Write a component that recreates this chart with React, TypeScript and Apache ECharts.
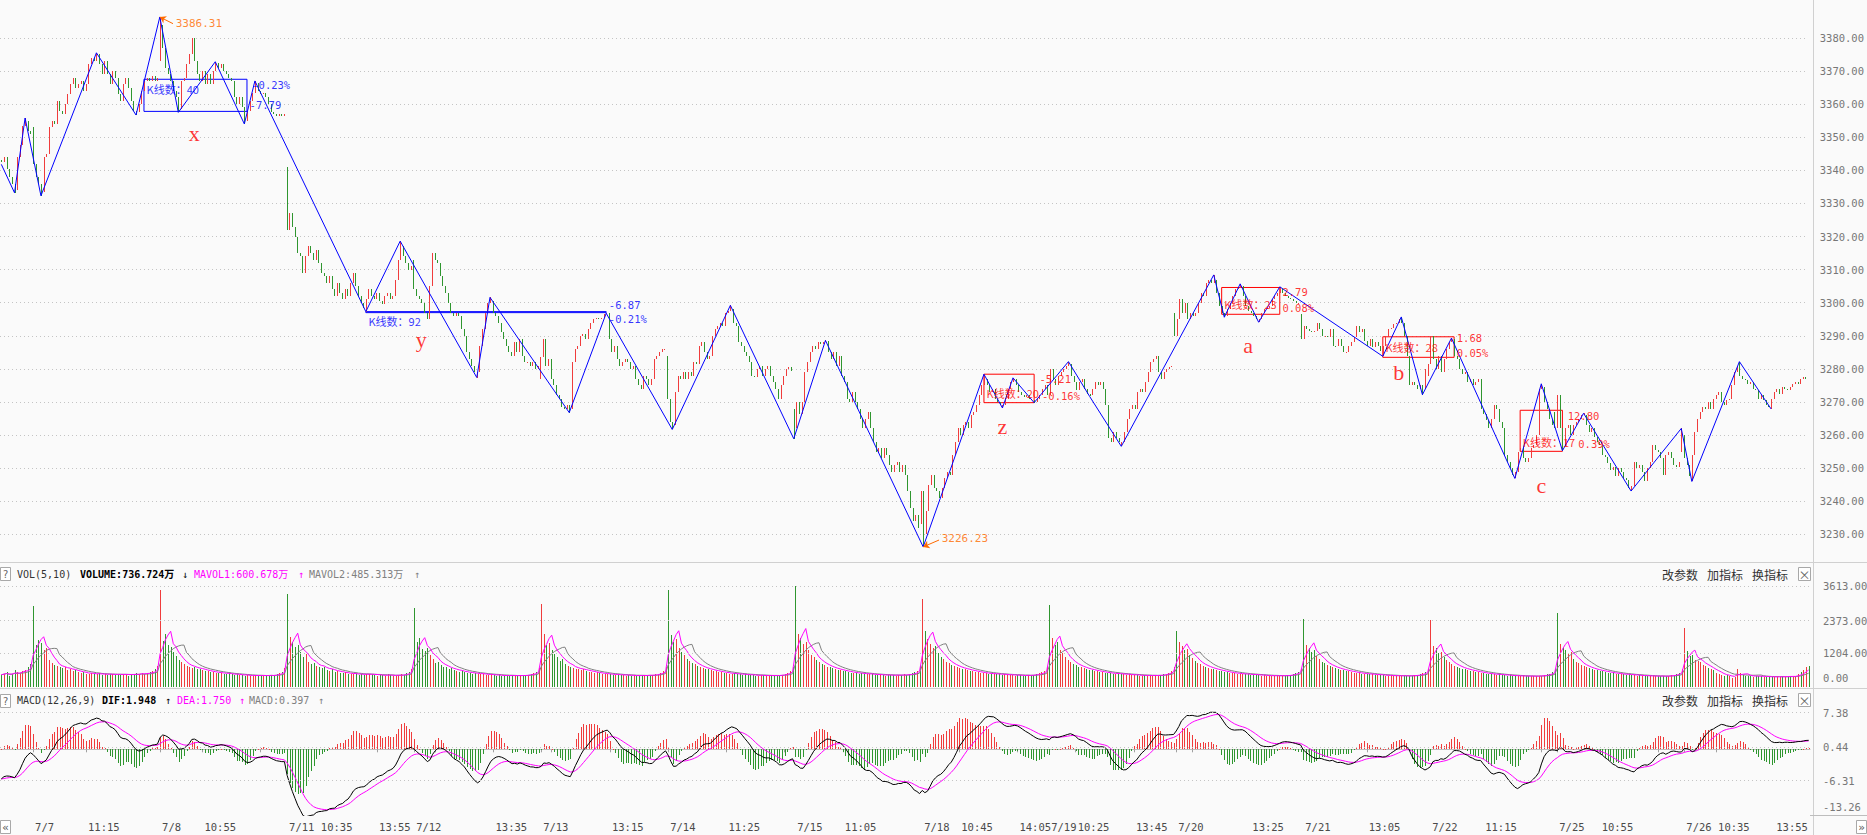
import React, { useEffect, useRef } from 'react';
import * as echarts from 'echarts';

// ---------------- categories / tick labels ----------------
const tradingDays = ['7/6', '7/7', '7/8', '7/11', '7/12', '7/13', '7/14', '7/15', '7/18', '7/19', '7/20', '7/21', '7/22', '7/25', '7/26'];
const barTimes = ['9:35', '9:40', '9:45', '9:50', '9:55', '10:00', '10:05', '10:10', '10:15', '10:20', '10:25', '10:30', '10:35', '10:40', '10:45', '10:50', '10:55', '11:00', '11:05', '11:10', '11:15', '11:20', '11:25', '11:30', '13:05', '13:10', '13:15', '13:20', '13:25', '13:30', '13:35', '13:40', '13:45', '13:50', '13:55', '14:00', '14:05', '14:10', '14:15', '14:20', '14:25', '14:30', '14:35', '14:40', '14:45', '14:50', '14:55', '15:00'];
const labelBars = [12, 32, 60, 76, 108, 120, 142, 156, 186, 204, 230, 252, 274, 300, 318, 348, 362, 384, 396, 406, 428, 444, 472, 492, 516, 540, 560, 588, 604, 636, 648, 670];
const tickBars = [12, 60, 108, 156, 204, 252, 300, 348, 396, 444, 492, 540, 588, 636, 32, 54, 76, 98, 120, 142, 164, 186, 208, 230, 274, 296, 318, 340, 362, 384, 406, 428, 450, 472, 494, 516, 538, 560, 582, 604, 626, 648, 670];

// ---------------- prices (5-minute closes) ----------------
const dayOpens = [3343, 3353, 3373, 3341, 3313, 3277, 3284, 3268, 3233, 3275, 3297, 3296.5, 3278, 3267, 3255];
const close0706 = [3342.5, 3344, 3340.5, 3338, 3336, 3334, 3344, 3347.5, 3353.5, 3355, 3352, 3351];
const close0707 = [3342, 3338, 3336, 3333.5, 3344, 3345, 3353, 3355, 3354, 3361, 3358, 3357, 3360, 3363, 3366, 3368, 3365, 3366, 3367, 3364, 3366, 3372, 3374, 3373, 3375, 3372, 3369, 3373, 3369, 3366, 3370, 3368, 3363, 3361, 3366, 3368, 3365, 3361, 3358, 3357.5, 3360, 3364, 3367, 3368, 3367, 3368.5, 3367, 3368];
const close0708 = [3384, 3377, 3371, 3369, 3367, 3364, 3362, 3358.5, 3367, 3368, 3372, 3375, 3380, 3373, 3369, 3367, 3370, 3366, 3369, 3366, 3370, 3372.5, 3371, 3372, 3370, 3369, 3368, 3367, 3362, 3360, 3362, 3359, 3355, 3358, 3361, 3363.5, 3366.5, 3364, 3363, 3363.5, 3362, 3360, 3357.5, 3357, 3356.5, 3357, 3356.5, 3357];
const close0711 = [3322, 3327, 3323, 3320, 3315, 3314, 3309, 3314, 3317, 3315, 3313, 3316, 3312, 3309, 3308, 3306, 3308, 3304, 3302, 3306, 3303, 3301, 3304, 3302, 3306, 3309, 3305, 3302, 3300, 3298.5, 3301, 3304, 3302, 3301, 3303, 3300.5, 3299.5, 3302, 3303, 3301, 3302, 3307, 3313, 3317, 3314, 3312, 3310, 3311];
const close0712 = [3304, 3302, 3301, 3300, 3297, 3295, 3305, 3315, 3313, 3312, 3308, 3305, 3303, 3300, 3297, 3296, 3297, 3296, 3292, 3290, 3285, 3283, 3281, 3279, 3279, 3287, 3292, 3297, 3300, 3300.5, 3297, 3296, 3294, 3291, 3289, 3287, 3285, 3284, 3288, 3285, 3289, 3284, 3282, 3282, 3281, 3282, 3280, 3281];
const close0713 = [3283.5, 3289, 3281, 3283, 3277, 3275, 3272, 3271, 3268.5, 3268, 3269, 3268, 3282, 3286, 3287, 3290, 3290.5, 3289, 3292, 3294, 3295, 3295.5, 3295, 3295.5, 3296.5, 3296.8, 3289, 3285, 3287, 3283, 3281, 3282, 3283, 3282, 3280, 3281, 3277, 3275, 3274, 3278, 3277, 3275, 3277, 3283, 3284, 3285, 3286, 3286];
const close0714 = [3271, 3264, 3263, 3273, 3278, 3277, 3279, 3277, 3279, 3278, 3282, 3281.5, 3287, 3288, 3285, 3283, 3284, 3290, 3292, 3293, 3294, 3293, 3297, 3297.5, 3298, 3294, 3293, 3288, 3287, 3285, 3284, 3282, 3278, 3277.5, 3280, 3281, 3278, 3280, 3281, 3278, 3276, 3274, 3271, 3275, 3278, 3280, 3280.5, 3279.5];
const close0715 = [3262, 3270, 3266.5, 3270, 3279, 3282, 3285, 3287, 3286, 3288, 3287.5, 3288, 3288.5, 3285, 3283, 3285, 3281, 3284, 3278, 3276, 3271, 3270, 3273, 3270, 3268, 3265, 3262, 3265, 3267, 3262, 3258, 3255, 3256, 3253, 3256, 3254, 3251, 3249, 3251, 3252, 3249, 3251, 3248, 3243, 3238, 3234, 3236, 3232];
const close0718 = [3243, 3230, 3237, 3245, 3248, 3244, 3243, 3241, 3244, 3247, 3249, 3248, 3254, 3258, 3262, 3260, 3263, 3264, 3262, 3266, 3267, 3269, 3272, 3275, 3277, 3275, 3273, 3274, 3271, 3270, 3269, 3269, 3271, 3274, 3276, 3277, 3275, 3273, 3272, 3271.5, 3272, 3271, 3270.5, 3270, 3271, 3272, 3274, 3275];
const close0719 = [3272, 3280, 3277, 3275, 3278, 3279, 3280, 3281, 3281.5, 3278, 3276, 3273.5, 3276, 3277, 3274, 3272.5, 3272, 3274, 3276, 3275, 3276, 3274, 3269, 3259, 3258, 3261, 3259, 3258, 3258, 3261, 3265, 3268, 3269, 3268, 3273, 3274, 3273, 3276, 3279, 3282, 3283, 3284, 3279, 3277, 3279, 3280, 3280.5, 3281];
const close0720 = [3290, 3295, 3301, 3297, 3300, 3295, 3297, 3296, 3297, 3300, 3303, 3302, 3306, 3307, 3306, 3307, 3303, 3299, 3297, 3296, 3298, 3300, 3302, 3304, 3304.5, 3305, 3302, 3299, 3297.5, 3297, 3296, 3295, 3295, 3297, 3298, 3298.5, 3299, 3301, 3302, 3303, 3304, 3303, 3302, 3301.5, 3301, 3300.5, 3300, 3300];
const close0721 = [3289, 3293, 3292, 3291.5, 3291, 3291.5, 3294, 3292, 3290, 3290, 3289.5, 3292, 3287, 3286.8, 3289, 3287, 3285, 3285, 3287, 3288, 3289.5, 3293, 3291, 3292, 3288.5, 3287, 3289, 3286.5, 3288, 3287, 3285.5, 3287, 3290, 3292, 3292.5, 3293.5, 3293.8, 3295, 3294, 3290, 3284, 3275, 3276, 3275, 3274, 3275, 3274, 3280];
const close0722 = [3281.4, 3290, 3283, 3280, 3284, 3279, 3283, 3286, 3288, 3289, 3284, 3283, 3280, 3278.5, 3279, 3276, 3277, 3275, 3276, 3277, 3268, 3266.5, 3264.5, 3262, 3265, 3269, 3268, 3264, 3262, 3254, 3252, 3250, 3248, 3249, 3255, 3256, 3253, 3252, 3253, 3256, 3257, 3260, 3274, 3274.5, 3270, 3268, 3265, 3263];
const close0725 = [3262, 3272, 3262, 3257, 3262, 3263, 3260, 3263, 3264, 3265, 3266, 3266, 3263, 3261, 3262, 3259.5, 3258, 3257, 3254, 3253.5, 3251.5, 3249.5, 3250.5, 3247.5, 3250, 3249, 3247, 3246.5, 3244, 3244.5, 3252, 3250, 3251, 3249, 3246, 3250, 3252, 3257, 3255.5, 3255, 3253, 3248, 3254, 3255, 3253, 3251, 3250.5, 3252];
const close0726 = [3260, 3253, 3251, 3247.5, 3254, 3261, 3265, 3267, 3268.5, 3268, 3270, 3268, 3271, 3272, 3273, 3270, 3269, 3270.5, 3271, 3275, 3279, 3281, 3278, 3277, 3276.5, 3275.5, 3276, 3274, 3273.5, 3271, 3272, 3270.5, 3269, 3268.5, 3271, 3273, 3274, 3272.5, 3274.5, 3274, 3273.5, 3274.5, 3275.5, 3276, 3275.5, 3277, 3277.5, 3277];

// ---------------- volume (万) ----------------
const vol0706 = [430, 470, 520, 380, 450, 600, 520, 480, 560, 610, 700, 820];
const vol0707 = [2900, 1500, 1680, 1560, 1320, 1380, 970, 850, 790, 730, 720, 670, 690, 610, 640, 560, 600, 520, 490, 520, 470, 460, 500, 450, 440, 480, 430, 470, 420, 460, 450, 410, 470, 430, 440, 460, 400, 450, 430, 480, 460, 500, 450, 470, 520, 560, 620, 760];
const vol0708 = [3470, 1650, 1900, 1500, 1420, 1250, 1100, 960, 880, 820, 760, 700, 680, 720, 640, 620, 600, 560, 580, 530, 520, 500, 480, 510, 470, 460, 480, 440, 420, 450, 430, 410, 400, 430, 380, 400, 410, 390, 420, 400, 380, 410, 430, 400, 450, 480, 540, 660];
const vol0711 = [3330, 1780, 1600, 1420, 1480, 1230, 1050, 1180, 900, 820, 860, 760, 700, 680, 720, 600, 580, 620, 540, 560, 500, 480, 520, 460, 470, 440, 480, 430, 450, 420, 460, 470, 440, 420, 400, 430, 410, 390, 440, 420, 400, 380, 420, 450, 430, 480, 520, 640];
const vol0712 = [2820, 1600, 1750, 1350, 1280, 1400, 1120, 980, 860, 900, 780, 720, 690, 640, 660, 600, 580, 540, 560, 520, 500, 490, 470, 500, 460, 440, 470, 430, 420, 450, 410, 400, 430, 390, 380, 410, 400, 420, 390, 380, 410, 400, 430, 420, 460, 490, 530, 680];
const vol0713 = [2970, 1900, 1500, 1580, 1300, 1180, 1050, 920, 990, 800, 760, 720, 680, 650, 620, 600, 640, 560, 540, 520, 500, 530, 480, 460, 440, 470, 450, 430, 420, 440, 410, 430, 400, 420, 390, 410, 380, 400, 420, 410, 390, 430, 410, 440, 470, 500, 560, 700];
const vol0714 = [3470, 1850, 1620, 1700, 1400, 1250, 1120, 1000, 930, 860, 800, 740, 700, 680, 640, 620, 600, 570, 550, 540, 520, 500, 490, 470, 460, 480, 450, 440, 430, 450, 420, 410, 430, 400, 390, 420, 410, 400, 380, 410, 390, 420, 400, 430, 460, 500, 560, 720];
const vol0715 = [3613, 1900, 1750, 1550, 1620, 1300, 1150, 1050, 950, 900, 830, 780, 720, 700, 660, 640, 610, 590, 560, 550, 530, 510, 500, 480, 470, 490, 460, 450, 440, 460, 430, 420, 440, 410, 400, 430, 420, 410, 400, 430, 410, 440, 420, 450, 480, 520, 580, 760];
const vol0718 = [3150, 2000, 1700, 1550, 1400, 1450, 1200, 1080, 980, 900, 850, 780, 740, 700, 680, 650, 620, 600, 580, 560, 540, 520, 500, 490, 480, 470, 460, 450, 470, 440, 430, 450, 420, 410, 430, 400, 420, 410, 400, 390, 420, 410, 430, 450, 480, 520, 570, 700];
const vol0719 = [2930, 1750, 1500, 1600, 1300, 1200, 1060, 950, 880, 820, 780, 720, 690, 660, 640, 610, 590, 570, 550, 540, 520, 500, 490, 480, 470, 460, 480, 450, 440, 430, 450, 420, 410, 430, 400, 390, 410, 400, 420, 390, 410, 400, 420, 440, 470, 510, 560, 690];
const vol0720 = [2000, 1600, 1450, 1300, 1350, 1150, 1020, 920, 860, 800, 760, 710, 680, 650, 630, 600, 580, 560, 540, 520, 500, 490, 480, 470, 460, 450, 440, 460, 430, 420, 440, 410, 400, 420, 390, 380, 400, 390, 410, 380, 400, 390, 410, 430, 460, 490, 540, 660];
const vol0721 = [2420, 1500, 1400, 1250, 1300, 1100, 980, 900, 840, 780, 740, 700, 660, 640, 610, 590, 570, 550, 530, 510, 500, 480, 470, 460, 450, 440, 460, 430, 420, 410, 430, 400, 390, 410, 380, 400, 390, 380, 400, 390, 380, 400, 410, 430, 450, 480, 530, 650];
const vol0722 = [2380, 1450, 1380, 1200, 1250, 1050, 950, 880, 820, 760, 720, 680, 650, 620, 600, 580, 560, 540, 520, 500, 490, 470, 460, 450, 440, 430, 450, 420, 410, 400, 420, 390, 380, 400, 370, 390, 380, 370, 390, 380, 370, 390, 400, 420, 440, 470, 520, 640];
const vol0725 = [2635, 1550, 1420, 1300, 1200, 1250, 1000, 900, 840, 780, 740, 700, 660, 630, 610, 590, 570, 550, 530, 510, 500, 480, 470, 460, 450, 440, 430, 450, 420, 410, 400, 420, 390, 380, 400, 370, 390, 380, 370, 390, 380, 370, 390, 410, 430, 460, 500, 620];
const vol0726 = [2100, 1265, 1085, 1145, 966, 907, 900, 787, 728, 668, 640, 608, 490, 470, 430, 370, 420, 380, 330, 360, 620, 480, 430, 400, 380, 370, 360, 400, 380, 370, 360, 350, 370, 340, 360, 350, 360, 370, 360, 370, 380, 369.7, 370, 450, 520, 600, 696.7, 736.724];

// ---------------- zigzag pivots, wave boxes, annotations ----------------
const zigzagStart = [0, 3341.8];
const zigzagPivots = [[5, 3333.2], [9, 3355.8], [15, 3332.3], [36, 3375.5], [51, 3356.7], [60, 3386.31], [67, 3357.5], [81, 3372.8], [92, 3354.0], [96, 3367.0], [138, 3297.3], [151, 3318.6], [180, 3277.4], [185, 3301.6], [215, 3266.8], [229, 3296.8], [254, 3261.7], [276, 3299.2], [300, 3258.9], [312, 3288.6], [349, 3226.23], [372, 3278.4], [379, 3268.2], [383, 3277.3], [391, 3269.8], [404, 3282.2], [412, 3271.7], [424, 3256.6], [459, 3308.4], [463, 3295.6], [469, 3305.7], [476, 3294.1], [484, 3304.8], [523, 3283.8], [530, 3295.7], [538, 3272.2], [549, 3289.3], [573, 3246.9], [583, 3275.5], [591, 3255.3], [599, 3266.6], [617, 3243.1], [636, 3262.0], [640, 3246.0], [658, 3282.2], [670, 3267.9]];
// [fromBar, toBar, top, bottom]
const blueBoxes = [[54, 93, 3367.5, 3357.8], [138, 229, 3297.3, 3297.0]];
const redBoxes = [[372, 391, 3278.4, 3269.8], [462, 484, 3304.6, 3296.5], [523, 550, 3289.7, 3283.5], [575, 591, 3267.5, 3255.1]];
const blueBoxTexts = [[55, 3364.7, 'K线数：40'], [95, 3365.8, '-0.23%'], [94, 3359.8, '-7.79'], [139, 3294.4, 'K线数：92'], [230, 3299.2, '-6.87'], [230, 3295.2, '-0.21%']];
const redBoxTexts = [[373, 3272.7, 'K线数：20'], [393, 3277.0, '-5.21'], [394, 3271.7, '-0.16%'], [463, 3299.7, 'K线数：23'], [485, 3303.3, '2.79'], [485, 3298.4, '0.08%'], [524, 3286.5, 'K线数：28'], [551, 3289.4, '1.68'], [551, 3284.9, '0.05%'], [576, 3258.0, 'K线数：17'], [593, 3265.9, '12.80'], [597, 3257.3, '0.39%']];
const waveLabels = [[73, 3351, 'x'], [159, 3289, 'y'], [379, 3262.7, 'z'], [472, 3287.2, 'a'], [529, 3278.8, 'b'], [583, 3244.7, 'c']];
const extremeMarks = [[60, 3386.31, 65, 3384.3, 66, 3384.2], [349, 3226.23, 355, 3228.3, 356, 3228.7]];

const volumeTicks = [0, 1204, 2373, 3613];
const macdTicks = [-13.26, -6.31, 0.44, 7.38];
const macdWarmup = { ema12Offset: 1.7, ema26Offset: 8.0, dea: -6.0 };

// ---------------- styles ----------------
const UP = '#f03c3c';
const DOWN = '#2f962f';
const BLUE = '#0000ff';
const RED = '#ff0000';
const ORANGE = '#ff6a00';
const MAGENTA = '#ff00ff';
const GRAY = '#808080';
const MONO = '"DejaVu Sans Mono", "Noto Sans CJK SC", monospace';
const CJK = '"Noto Sans CJK SC", sans-serif';
const GRID_LINE = '#c4c4c4';
const BORDER = '#d0d0d0';

function buildOption() {
  const dayCloses = [close0706, close0707, close0708, close0711, close0712, close0713, close0714, close0715, close0718, close0719, close0720, close0721, close0722, close0725, close0726];
  const dayVols = [vol0706, vol0707, vol0708, vol0711, vol0712, vol0713, vol0714, vol0715, vol0718, vol0719, vol0720, vol0721, vol0722, vol0725, vol0726];
  const closes = dayCloses.flat();
  const vols = dayVols.flat();
  const n = closes.length;

  const categories: string[] = [];
  const dayStart: Record<number, number> = {};
  tradingDays.forEach((d, di) => {
    const len = dayCloses[di].length;
    const times = barTimes.slice(48 - len);
    dayStart[categories.length] = di;
    times.forEach((t, k) => categories.push(di > 0 && k === 0 ? d : t));
  });

  const pivotHigh: Record<number, number> = {};
  const pivotLow: Record<number, number> = {};
  let prevP = zigzagStart[1];
  zigzagPivots.forEach(([b, p]) => {
    if (p > prevP) pivotHigh[b] = p; else pivotLow[b] = p;
    prevP = p;
  });

  const candles: any[] = [];
  const dirs: number[] = [];
  for (let i = 0; i < n; i++) {
    const o = dayStart[i] !== undefined ? dayOpens[dayStart[i]] : closes[i - 1];
    const c = closes[i];
    let hi = Math.max(o, c), lo = Math.min(o, c);
    if (pivotHigh[i] !== undefined) hi = Math.max(hi, pivotHigh[i]);
    if (pivotLow[i] !== undefined) lo = Math.min(lo, pivotLow[i]);
    const dir = c > o ? 1 : c < o ? -1 : (i > 0 && c < closes[i - 1] ? -1 : 1);
    dirs.push(dir);
    candles.push([i, o, c, lo, hi, dir]);
  }

  const ma = (arr: number[], k: number) => arr.map((_, i) => {
    const s = Math.max(0, i - k + 1);
    let sum = 0;
    for (let j = s; j <= i; j++) sum += arr[j];
    return +(sum / (i - s + 1)).toFixed(3);
  });
  const ma5 = ma(vols, 5);
  const ma10 = ma(vols, 10);

  let e12 = closes[0] + macdWarmup.ema12Offset;
  let e26 = closes[0] + macdWarmup.ema26Offset;
  let dea = macdWarmup.dea;
  const difArr: number[] = [], deaArr: number[] = [], histArr: any[] = [];
  closes.forEach((c, i) => {
    e12 = e12 + (c - e12) * 2 / 13;
    e26 = e26 + (c - e26) * 2 / 27;
    const d = e12 - e26;
    dea = dea + (d - dea) * 2 / 10;
    difArr.push(+d.toFixed(3));
    deaArr.push(+dea.toFixed(3));
    histArr.push([i, +(2 * (d - dea)).toFixed(3)]);
  });

  const labelSet = new Set(labelBars);
  const tickSet = new Set(tickBars);

  const lineRender = (getLoHi: (api: any) => [number, number], getColor: (api: any) => string) =>
    (params: any, api: any) => {
      const i = api.value(0);
      const [lo, hi] = getLoHi(api);
      const pTop = api.coord([i, hi]);
      const pBot = api.coord([i, lo]);
      const x = Math.round(pTop[0]) + 0.5;
      let y1 = Math.round(pTop[1]);
      let y2 = Math.round(pBot[1]);
      if (y2 - y1 < 1) y2 = y1 + 1;
      return { type: 'line', shape: { x1: x, y1, x2: x, y2 }, style: { stroke: getColor(api), lineWidth: 1 } };
    };

  const xAxisBase = (g: number) => ({
    type: 'category',
    gridIndex: g,
    data: categories,
    boundaryGap: true,
    axisLine: { show: g === 2, lineStyle: { color: '#bdbdbd' } },
    axisTick: g === 2 ? { show: true, alignWithLabel: true, interval: (i: number) => tickSet.has(i), length: 3, lineStyle: { color: '#a0a0a0' } } : { show: false },
    axisLabel: g === 2 ? {
      show: true, interval: (i: number) => labelSet.has(i), align: 'left', padding: [0, 0, 0, 2], margin: 6,
      color: '#4a4a4a', fontSize: 10.5, fontFamily: MONO,
    } : { show: false },
    splitLine: { show: false },
  });

  const gridMark = (ticks: number[], hideLine: number) => ({
    silent: true,
    symbol: 'none',
    animation: false,
    lineStyle: { type: [1, 3], color: GRID_LINE, width: 1 },
    label: { show: true, position: 'end', distance: 13, color: '#777', fontSize: 10.5, fontFamily: MONO, formatter: (p: any) => Number(p.value).toFixed(2) },
    data: ticks.map((v) => v === hideLine
      ? { yAxis: v, lineStyle: { color: 'rgba(0,0,0,0)', type: 'solid' }, label: { verticalAlign: 'bottom', color: '#777', padding: [0, 0, 3, 0] } }
      : { yAxis: v }),
  });

  const textPoint = (bar: number, price: number, text: string, color: string, font: any, position: string) => ({
    value: [bar, price],
    label: { show: true, formatter: text, color, position, distance: 0, ...font },
  });

  const boxFont = (t: string) => (t.startsWith('K') ? { fontSize: 11, fontFamily: CJK } : { fontSize: 10.5, fontFamily: MONO });
  const annotationData = [
    ...blueBoxTexts.map(([b, p, t]: any) => textPoint(b, p, t, BLUE, boxFont(t), 'right')),
    ...redBoxTexts.map(([b, p, t]: any) => textPoint(b, p, t, RED, boxFont(t), 'right')),
    ...waveLabels.map(([b, p, t]: any) => textPoint(b, p, t, RED, { fontSize: 22, fontFamily: '"Liberation Serif", "DejaVu Serif", serif' }, 'inside')),
    ...extremeMarks.map(([, p, , , tb, tp]: any) => textPoint(tb, tp, p.toFixed(2), ORANGE, { fontSize: 11, fontFamily: MONO }, 'right')),
  ];

  const boxArea = (boxes: number[][], color: string) => boxes.map(([f, t, top, bot]) => [
    { xAxis: f, yAxis: top, itemStyle: { color: 'rgba(0,0,0,0)', borderColor: color, borderWidth: 1 } },
    { xAxis: t, yAxis: bot },
  ]);

  const txt = (x: number, y: number, text: string, fill: string, font = `10px ${MONO}`, align = 'left') => ({
    type: 'text', x, y, silent: true,
    style: { text, fill, font, textAlign: align, textVerticalAlign: 'middle' },
  });
  const box = (x: number, y: number, w: number, h: number) => ({
    type: 'rect', silent: true, shape: { x: x + 0.5, y: y + 0.5, width: w, height: h },
    style: { fill: '#ffffff', stroke: '#a8a8a8', lineWidth: 1 },
  });
  const hline = (y: number, x1: number, x2: number, color = BORDER) => ({
    type: 'line', silent: true, shape: { x1, y1: y + 0.5, x2, y2: y + 0.5 }, style: { stroke: color, lineWidth: 1 },
  });
  const vline = (x: number, y1: number, y2: number, color = BORDER) => ({
    type: 'line', silent: true, shape: { x1: x + 0.5, y1, x2: x + 0.5, y2 }, style: { stroke: color, lineWidth: 1 },
  });

  const header = (y: number, items: [number, string, string, string?][]) => items.map(([x, t, c, f]) => txt(x, y, t, c, f || `10px ${MONO}`));
  const buttons = (y: number) => [
    txt(1662, y, '改参数', '#333', `12px ${CJK}`),
    txt(1707, y, '加指标', '#333', `12px ${CJK}`),
    txt(1752, y, '换指标', '#333', `12px ${CJK}`),
    box(1798, y - 7, 12, 13),
    txt(1804.5, y, '×', '#666', `12px ${CJK}`, 'center'),
  ];

  const graphic = [
    vline(1813, 0, 835),
    hline(562, 0, 1867),
    hline(688, 0, 1867),
    hline(815, 1810, 1867, '#bdbdbd'),
    box(0, 567, 10, 13), txt(5.5, 574, '?', '#666', `10px ${MONO}`, 'center'),
    ...header(574, [
      [17, 'VOL(5,10)', '#333'],
      [80, 'VOLUME:736.724万', '#000', `bold 10px ${MONO}`],
      [182, '↓', '#000'],
      [194, 'MAVOL1:600.678万', MAGENTA],
      [298, '↑', MAGENTA],
      [309, 'MAVOL2:485.313万', GRAY],
      [414, '↑', GRAY],
    ]),
    ...buttons(574),
    box(0, 694, 10, 13), txt(5.5, 701, '?', '#666', `10px ${MONO}`, 'center'),
    ...header(700, [
      [17, 'MACD(12,26,9)', '#333'],
      [102, 'DIF:1.948', '#000', `bold 10px ${MONO}`],
      [165, '↑', '#000'],
      [177, 'DEA:1.750', MAGENTA],
      [239, '↑', MAGENTA],
      [249, 'MACD:0.397', GRAY],
      [318, '↑', GRAY],
    ]),
    ...buttons(700),
    box(0, 820, 10, 13), txt(5.5, 827, '«', '#555', `11px ${MONO}`, 'center'),
    box(1856, 820, 10, 13), txt(1861.5, 827, '»', '#555', `11px ${MONO}`, 'center'),
  ];

  return {
    animation: false,
    backgroundColor: '#fafafa',
    graphic,
    grid: [
      { left: 0, width: 1810, top: 4.8, height: 562.7 },
      { left: 0, width: 1810, top: 586, height: 101 },
      { left: 0, width: 1810, top: 705.9, height: 109.6 },
    ],
    xAxis: [xAxisBase(0), xAxisBase(1), xAxisBase(2)],
    yAxis: [
      {
        type: 'value', gridIndex: 0, position: 'right', min: 3220, max: 3390, interval: 10,
        axisLine: { show: false }, axisTick: { show: false },
        axisLabel: { show: true, margin: 13, color: '#777', fontSize: 10.5, fontFamily: MONO, showMinLabel: false, showMaxLabel: false, formatter: (v: number) => v.toFixed(2) },
        splitLine: { show: true, showMinLine: false, showMaxLine: false, lineStyle: { type: [1, 3], color: GRID_LINE } },
      },
      { type: 'value', gridIndex: 1, position: 'right', min: -10, max: 3613, show: false, splitLine: { show: false } },
      { type: 'value', gridIndex: 2, position: 'right', min: -13.36, max: 8.76, show: false, splitLine: { show: false } },
    ],
    series: [
      {
        name: 'K', type: 'custom', xAxisIndex: 0, yAxisIndex: 0, data: candles,
        encode: { x: 0, y: [3, 4] },
        renderItem: lineRender((api) => [api.value(3), api.value(4)], (api) => (api.value(5) > 0 ? UP : DOWN)),
        z: 2,
      },
      {
        name: 'zigzag', type: 'line', xAxisIndex: 0, yAxisIndex: 0,
        data: [zigzagStart, ...zigzagPivots],
        symbol: 'none', lineStyle: { color: BLUE, width: 1 }, z: 4,
        markArea: { silent: true, data: [...boxArea(blueBoxes, BLUE), ...boxArea(redBoxes, RED)] },
      },
      {
        name: 'notes', type: 'scatter', xAxisIndex: 0, yAxisIndex: 0,
        symbolSize: 0, data: annotationData, z: 5,
        markLine: {
          silent: true, animation: false, symbol: ['arrow', 'none'], symbolSize: 6,
          lineStyle: { color: ORANGE, width: 1, type: 'solid' }, label: { show: false },
          data: extremeMarks.map(([b, p, eb, ep]) => [{ coord: [b, p] }, { coord: [eb, ep] }]),
        },
      },
      {
        name: 'VOL', type: 'custom', xAxisIndex: 1, yAxisIndex: 1,
        data: vols.map((v, i) => [i, v, dirs[i]]),
        encode: { x: 0, y: 1 },
        renderItem: lineRender((api) => [0, api.value(1)], (api) => (api.value(2) > 0 ? UP : DOWN)),
        markLine: gridMark(volumeTicks, 0),
      },
      { name: 'MAVOL1', type: 'line', xAxisIndex: 1, yAxisIndex: 1, data: ma5, symbol: 'none', lineStyle: { color: MAGENTA, width: 1 }, z: 4 },
      { name: 'MAVOL2', type: 'line', xAxisIndex: 1, yAxisIndex: 1, data: ma10, symbol: 'none', lineStyle: { color: GRAY, width: 1 }, z: 3 },
      {
        name: 'MACD', type: 'custom', xAxisIndex: 2, yAxisIndex: 2, data: histArr,
        encode: { x: 0, y: 1 },
        renderItem: lineRender((api) => [Math.min(0, api.value(1)), Math.max(0, api.value(1))], (api) => (api.value(1) >= 0 ? UP : DOWN)),
        markLine: gridMark(macdTicks, -13.26),
      },
      { name: 'DIF', type: 'line', xAxisIndex: 2, yAxisIndex: 2, data: difArr, symbol: 'none', lineStyle: { color: '#000', width: 1 }, z: 4 },
      { name: 'DEA', type: 'line', xAxisIndex: 2, yAxisIndex: 2, data: deaArr, symbol: 'none', lineStyle: { color: MAGENTA, width: 1 }, z: 3 },
    ],
  };
}

export default function App() {
  const ref = useRef<HTMLDivElement>(null);
  useEffect(() => {
    const chart = echarts.init(ref.current as HTMLDivElement, null, { renderer: 'svg' });
    chart.setOption(buildOption() as any);
    return () => chart.dispose();
  }, []);
  return <div ref={ref} style={{ position: 'absolute', left: 0, top: 0, width: 1867, height: 835 }} />;
}
